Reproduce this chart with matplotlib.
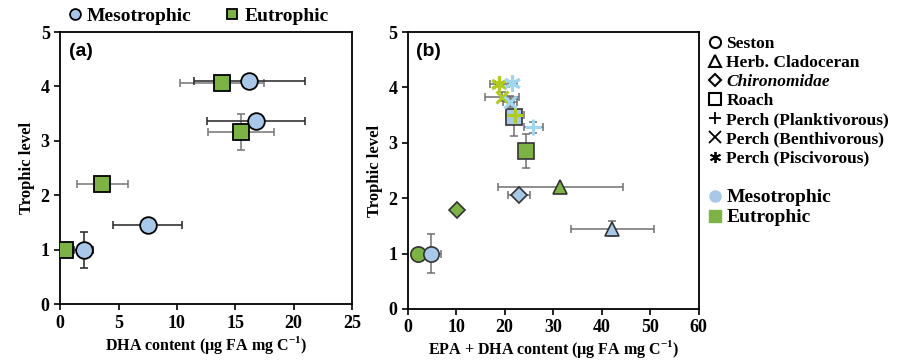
import matplotlib
matplotlib.use('Agg')
import matplotlib.pyplot as plt
from matplotlib.lines import Line2D

plt.rcParams['font.family'] = ['Liberation Serif', 'DejaVu Serif']
plt.rcParams['font.weight'] = 'bold'
plt.rcParams['mathtext.fontset'] = 'custom'
plt.rcParams['mathtext.rm'] = 'Liberation Serif:bold'
plt.rcParams['mathtext.bf'] = 'Liberation Serif:bold'

# panel (a): DHA content
meso_a_x = [2.0, 7.5, 16.8, 16.2]
meso_a_y = [1.0, 1.46, 3.37, 4.10]
meso_a_xerr = [0.8, 2.95, 4.2, 4.75]
meso_a_yerr = [0.33, 0.1, 0.1, 0.08]
eu_a_x = [0.4, 3.6, 15.5, 13.9]
eu_a_y = [1.0, 2.2, 3.17, 4.07]
eu_a_xerr = [0.3, 2.2, 2.8, 3.6]
eu_a_yerr = [0.0, 0.0, 0.33, 0.0]

# panel (b): EPA + DHA content
groups = ['Seston', 'Herb. Cladoceran', 'Chironomidae', 'Roach',
          'Perch (Planktivorous)', 'Perch (Benthivorous)', 'Perch (Piscivorous)']
meso_b_x = [4.9, 42.2, 22.9, 21.9, 25.9, 21.1, 21.6]
meso_b_y = [1.0, 1.45, 2.05, 3.46, 3.28, 3.74, 4.08]
meso_b_xerr = [2.0, 8.5, 2.3, 0.8, 2.0, 1.5, 1.0]
meso_b_yerr = [0.36, 0.13, 0.07, 0.33, 0.1, 0.1, 0.03]
eu_b_x = [2.1, 31.5, 10.1, 24.3, 22.1, 19.4, 18.9]
eu_b_y = [1.0, 2.2, 1.79, 2.85, 3.5, 3.83, 4.07]
eu_b_xerr = [0.0, 12.8, 0.0, 0.0, 1.9, 3.5, 2.0]
eu_b_yerr = [0.0, 0.0, 0.0, 0.3, 0.08, 0.08, 0.0]

markers = ['o', '^', 'D', 's', '+', 'x', (6, 2, 0)]
msizes = [11, 10, 8, 11, 11, 9, 12]

meso_col = '#a7c8e8'
eu_col = '#7cb342'
meso_perch = '#9fd6f0'
eu_perch = '#b0cb1c'

fig = plt.figure(figsize=(8.98, 3.6), dpi=100)
ax1 = fig.add_axes([0.067, 0.155, 0.325, 0.756])
ax2 = fig.add_axes([0.454, 0.142, 0.324, 0.769])

# --- panel (a)
for x, y, xe, ye in zip(eu_a_x, eu_a_y, eu_a_xerr, eu_a_yerr):
    ax1.errorbar(x, y, xerr=xe, yerr=ye, fmt='none', ecolor='#7f7f7f',
                 elinewidth=1.2, capsize=3, capthick=1.2, zorder=2)
for x, y, xe, ye in zip(meso_a_x, meso_a_y, meso_a_xerr, meso_a_yerr):
    ax1.errorbar(x, y, xerr=xe, yerr=ye, fmt='none', ecolor='#333333',
                 elinewidth=1.2, capsize=3, capthick=1.2, zorder=2)
ax1.plot(eu_a_x, eu_a_y, 's', ms=12, mfc=eu_col, mec='black', mew=1.3,
         ls='none', zorder=3, label='Eutrophic')
ax1.plot(meso_a_x, meso_a_y, 'o', ms=12, mfc=meso_col, mec='black', mew=1.3,
         ls='none', zorder=4, label='Mesotrophic')

ax1.set_xlim(0, 25)
ax1.set_ylim(0, 5)
ax1.set_xticks(range(0, 26, 5))
ax1.set_yticks(range(0, 6))
ax1.set_xlabel(r'DHA content (µg FA mg C$^{-1}$)', fontsize=11.5,
               fontweight='bold', labelpad=2)
ax1.set_ylabel('Trophic level', fontsize=12, fontweight='bold')
ax1.text(0.03, 0.96, '(a)', transform=ax1.transAxes, fontsize=14,
         fontweight='bold', family='Liberation Sans', va='top')
h, l = ax1.get_legend_handles_labels()
ax1.legend(h[::-1], l[::-1], loc='lower left', bbox_to_anchor=(-0.015, 0.99),
           ncol=2, frameon=False, fontsize=14, handletextpad=0.1,
           columnspacing=1.6, borderaxespad=0.1, markerscale=0.65,
           handlelength=1.0)

# --- panel (b)
for i in range(len(groups)):
    perch = i >= 4
    for xs, ys, xes, yes, col, pcol in [
            (eu_b_x, eu_b_y, eu_b_xerr, eu_b_yerr, eu_col, eu_perch),
            (meso_b_x, meso_b_y, meso_b_xerr, meso_b_yerr, meso_col, meso_perch)]:
        ax2.errorbar(xs[i], ys[i], xerr=xes[i], yerr=yes[i], fmt='none',
                     ecolor='#6f6f6f', elinewidth=1.1, capsize=3, capthick=1.1,
                     zorder=2)
        if perch:
            ax2.plot(xs[i], ys[i], marker=markers[i], ms=msizes[i], color=pcol,
                     mew=2.2, ls='none', zorder=3)
        else:
            ax2.plot(xs[i], ys[i], marker=markers[i], ms=msizes[i], mfc=col,
                     mec='#333333', mew=1.2, ls='none', zorder=3)

ax2.set_xlim(0, 60)
ax2.set_ylim(0, 5)
ax2.set_xticks(range(0, 61, 10))
ax2.set_yticks(range(0, 6))
ax2.set_xlabel(r'EPA + DHA content (µg FA mg C$^{-1}$)', fontsize=11.5,
               fontweight='bold', labelpad=1)
ax2.set_ylabel('Trophic level', fontsize=12, fontweight='bold')
ax2.text(0.03, 0.96, '(b)', transform=ax2.transAxes, fontsize=14,
         fontweight='bold', family='Liberation Sans', va='top')

for ax in (ax1, ax2):
    ax.tick_params(direction='out', length=4, width=1.2, labelsize=13,
                   top=False, right=False)
    for lab in ax.get_xticklabels() + ax.get_yticklabels():
        lab.set_fontweight('bold')
    for sp in ax.spines.values():
        sp.set_linewidth(1.3)

handles = []
for i, g in enumerate(groups):
    if i >= 4:
        handles.append(Line2D([], [], marker=markers[i], color='black', ms=8,
                              mew=1.3, ls='none'))
    else:
        handles.append(Line2D([], [], marker=markers[i], mfc='white',
                              mec='black', ms=8 if i != 2 else 6, mew=1.5,
                              ls='none'))
labels = list(groups)
handles.append(Line2D([], [], ls='none'))
labels.append('')
handles.append(Line2D([], [], marker='o', color=meso_col, ms=8, ls='none'))
labels.append('Mesotrophic')
handles.append(Line2D([], [], marker='s', color=eu_col, ms=8, ls='none'))
labels.append('Eutrophic')
leg = ax2.legend(handles, labels, loc='upper left', bbox_to_anchor=(0.985, 1.03),
                 frameon=False, fontsize=12.5, handletextpad=0.15,
                 labelspacing=0.17, handlelength=1.0, borderaxespad=0.3)
texts = leg.get_texts()
texts[2].set_fontstyle('italic')
texts[-1].set_fontsize(14)
texts[-2].set_fontsize(14)

fig.savefig('out.png', dpi=100)
